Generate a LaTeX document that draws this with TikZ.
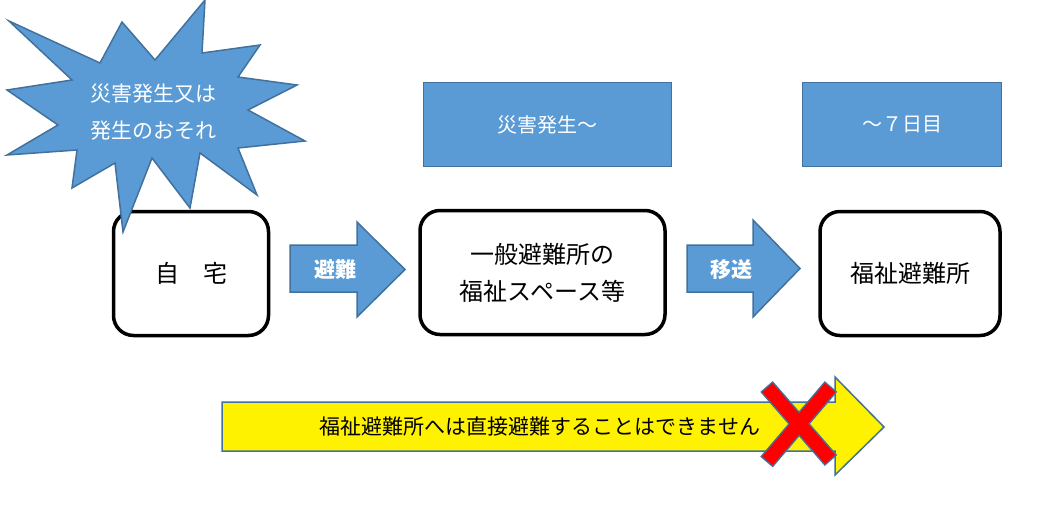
\documentclass[tikz,border=0pt]{standalone}
\usepackage{fontspec}
\setmainfont{Noto Sans CJK JP}
\definecolor{boxblue}{HTML}{5B9BD5}
\definecolor{edgeblue}{HTML}{41719C}
\definecolor{notered}{HTML}{FF0000}
\tikzset{
  blueshape/.style = {fill = boxblue, draw = edgeblue, line width = 1.5pt, line join = miter},
  stagebox/.style = {blueshape, minimum width = #1, minimum height = 84pt, inner sep = 0pt, text = white, font = \fontsize{20pt}{20pt}\selectfont},
  roundbox/.style = {draw, line width = 3.5pt, rounded corners = 20pt, minimum width = #1, minimum height = 124pt, inner sep = 0pt, align = center, font = \fontsize{24pt}{37pt}\selectfont},
  arrowtext/.style = {text = white, font = \fontsize{21pt}{21pt}\selectfont\bfseries}
}
\begin{document}
\begin{tikzpicture}[x = 1pt, y = -1pt]
        \useasboundingbox (0, 0) rectangle (1060, 506);

        \node[stagebox = 248pt] (onset) at (547.5, 124.5) {災害発生～};
        \node[stagebox = 199pt] (week) at (902, 124.5) {～７日目};

        \node[roundbox = 155pt] (home) at (191, 273.5) {自　宅};
        \node[roundbox = 245pt] (general) at (542.5, 272.5) {一般避難所の\\福祉スペース等};
        \node[roundbox = 180pt] (welfare) at (910, 273.5) {福祉避難所};

        \filldraw[blueshape] (9, 21) -- (100, 63) -- (122, 22) -- (155, 60) -- (205, 0) -- (202, 53) -- (260, 45) -- (238, 77) -- (297, 85) -- (248, 110) -- (305, 141) -- (238, 148) -- (257, 195) -- (200, 153) -- (190, 208) -- (152, 158) -- (123, 232) -- (115, 163) -- (72, 188) -- (77, 150) -- (7, 155) -- (58, 125) -- (7, 90) -- (72, 80) -- cycle;
        \node[text = white, align = center, font = \fontsize{21pt}{37pt}\selectfont] (alert) at (153, 112) {災害発生又は\\発生のおそれ};

        \filldraw[blueshape] (290, 245) -- (357, 245) -- (357, 222) -- (405, 269.5) -- (357, 317) -- (357, 292) -- (290, 292) -- cycle;
        \node[arrowtext] (evac) at (335, 270) {避難};
        \filldraw[blueshape] (687, 245) -- (753, 245) -- (753, 220) -- (800, 268.5) -- (753, 317) -- (753, 292) -- (687, 292) -- cycle;
        \node[arrowtext] (move) at (731, 270) {移送};

        \filldraw[fill = yellow, draw = edgeblue, line width = 1.5pt, line join = miter] (222, 402) -- (835, 402) -- (835, 377) -- (884, 427) -- (835, 475) -- (835, 451) -- (222, 451) -- cycle;
        \node[font = \fontsize{21pt}{21pt}\selectfont] (notice) at (540, 427) {福祉避難所へは直接避難することはできません};

        \draw[edgeblue, line width = 16.5pt] (766.5, 386.5) -- (831, 460.5);
        \draw[edgeblue, line width = 16.5pt] (831, 386.5) -- (766.5, 462);
        \draw[notered, line width = 13.5pt, shorten <= 1.5pt, shorten >= 1.5pt] (766.5, 386.5) -- (831, 460.5);
        \draw[notered, line width = 13.5pt, shorten <= 1.5pt, shorten >= 1.5pt] (831, 386.5) -- (766.5, 462);

    \end{tikzpicture}
\end{document}
